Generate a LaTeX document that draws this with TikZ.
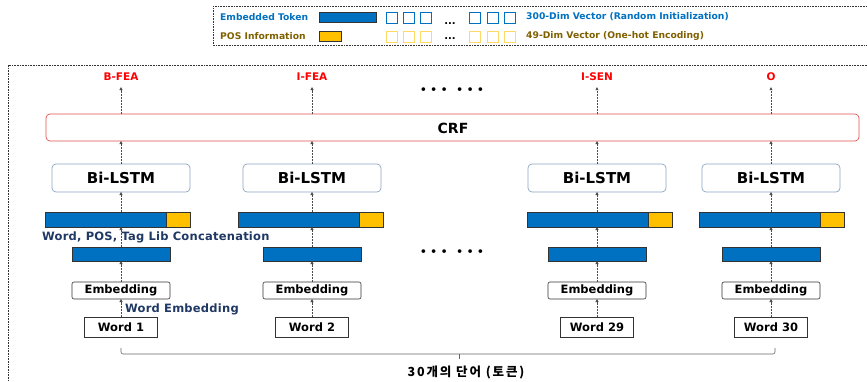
\documentclass[tikz,border=0pt]{standalone}
\usepackage{fontspec}
\setmainfont{DejaVu Sans}
\newfontfamily\kr[LetterSpace=15]{Noto Sans CJK KR}
\newfontfamily\notefont[LetterSpace=2]{DejaVu Sans}
\usetikzlibrary{arrows.meta}
\definecolor{tokblue}{RGB}{0,112,192}
\definecolor{posor}{RGB}{255,192,0}
\definecolor{posbrown}{RGB}{127,96,0}
\definecolor{navy}{RGB}{32,56,100}
\definecolor{lstmc}{RGB}{140,165,195}
\definecolor{crfred}{RGB}{225,80,80}
\definecolor{sqyel}{RGB}{255,217,102}
\tikzset{
  arr/.style={draw=black!70, line width=0.5pt, dash pattern=on 1pt off 0.5pt, -{Triangle[length=3pt,width=3pt]}},
  lstmbox/.style={draw=lstmc, line width=0.7pt, rounded corners=4pt, fill=white, minimum width=138pt, minimum height=28pt, inner sep=0pt, outer sep=0pt, font=\bfseries\fontsize{15}{17}\selectfont},
  catbar/.style={draw=black!80, line width=0.6pt, fill=tokblue, minimum width=145pt, minimum height=15pt, inner sep=0pt, outer sep=0pt},
  posbar/.style={draw=black!80, line width=0.6pt, fill=posor, minimum width=24pt, minimum height=15pt, inner sep=0pt, outer sep=0pt, anchor=east},
  embbar/.style={draw=black!80, line width=0.6pt, fill=tokblue, minimum width=98pt, minimum height=14pt, inner sep=0pt, outer sep=0pt},
  embbox/.style={draw=black!80, line width=0.6pt, rounded corners=2pt, minimum width=98pt, minimum height=17pt, inner sep=0pt, outer sep=0pt, font=\bfseries\fontsize{11.5}{13}\selectfont},
  wordbox/.style={draw=black!80, line width=0.6pt, minimum width=73pt, minimum height=20pt, inner sep=0pt, outer sep=0pt, font=\bfseries\fontsize{11.5}{13}\selectfont},
  outlab/.style={text=red, font=\bfseries\fontsize{10.5}{12}\selectfont, inner sep=0pt},
  note/.style={text=navy, font=\notefont\bfseries\fontsize{11.5}{13}\selectfont, inner sep=0pt, anchor=west},
  frame/.style={draw=black!80, line width=0.7pt, dash pattern=on 1pt off 0.6pt},
  sqb/.style={draw=tokblue, line width=0.6pt, minimum size=10.5pt, inner sep=0pt, anchor=north west},
  sqy/.style={draw=sqyel, line width=0.6pt, minimum size=10.5pt, inner sep=0pt, anchor=north west},
  legtxt/.style={font=\bfseries\fontsize{9.2}{11}\selectfont, inner sep=0pt, anchor=west},
  dots/.style={font=\bfseries\fontsize{10.5}{12}\selectfont, inner sep=0pt},
  ldots/.style={font=\bfseries\fontsize{10}{12}\selectfont, inner sep=0pt}
}
\begin{document}
\begin{tikzpicture}[x=1pt,y=-1pt]
\useasboundingbox (0,0) rectangle (867,381);
% frames
\draw[frame] (8,381) -- (8,65) -- (867,65);
\draw[frame] (867,6) -- (213,6) -- (213,45) -- (867,45);
% legend
\node[legtxt, text=tokblue] (lt1) at (220,17) {Embedded Token};
\node[legtxt, text=posbrown] (lt2) at (220,36) {POS Information};
\node[draw=black!80, line width=0.6pt, fill=tokblue, minimum width=57pt, minimum height=10pt, inner sep=0pt, anchor=north west] (lb1) at (319,12) {};
\node[draw=black!80, line width=0.6pt, fill=posor, minimum width=22pt, minimum height=10pt, inner sep=0pt, anchor=north west] (lb2) at (319,31) {};
\node[sqb] (sb1) at (386,12) {};
\node[sqb] (sb2) at (403,12) {};
\node[sqb] (sb3) at (420,12) {};
\node[sqb] (sb4) at (469,12) {};
\node[sqb] (sb5) at (487,12) {};
\node[sqb] (sb6) at (504,12) {};
\node[sqy] (sy1) at (386,31) {};
\node[sqy] (sy2) at (403,31) {};
\node[sqy] (sy3) at (420,31) {};
\node[sqy] (sy4) at (469,31) {};
\node[sqy] (sy5) at (487,31) {};
\node[sqy] (sy6) at (504,31) {};
\node[ldots, anchor=base] (ld1) at (450,24) {...};
\node[ldots, anchor=base] (ld2) at (450,39) {...};
\node[legtxt, text=tokblue] (lv1) at (526,17) {300-Dim Vector (Random Initialization)};
\node[legtxt, text=posbrown] (lv2) at (526,36) {49-Dim Vector (One-hot Encoding)};
% CRF
\node[draw=crfred, line width=0.7pt, rounded corners=4pt, minimum width=813pt, minimum height=27pt, inner sep=0pt, outer sep=0pt] (crf) at (452.5,127.5) {};
\node[font=\bfseries\fontsize{14}{16}\selectfont, inner sep=0pt] (crft) at (453,128) {CRF};
\node[dots] (od) at (452,91) {• • •\hspace{9pt}• • •};
\node[dots] (md) at (452,253) {• • •\hspace{9pt}• • •};
% columns
\foreach \i/\c/\cc/\lab/\w in {1/121/117.5/B-FEA/Word 1, 2/312/310.5/I-FEA/Word 2, 3/597/599.5/I-SEN/Word 29, 4/771/772/O/Word 30}{
  \node[outlab] (out\i) at (\c,77) {\lab};
  \node[lstmbox] (lstm\i) at (\c,178) {Bi-LSTM};
  \node[catbar] (cat\i) at (\cc,219.5) {};
  \node[posbar] (pos\i) at (cat\i.east) {};
  \node[embbar] (ebar\i) at (\c,254) {};
  \node[embbox] (ebox\i) at (\c,290.5) {Embedding};
  \node[wordbox] (word\i) at (\c,327) {\w};
  \draw[arr] (word\i.north) -- (ebox\i.south);
  \draw[arr] (ebox\i.north) -- (ebar\i.south);
  \draw[arr] (ebar\i.north) -- (ebar\i.north |- cat\i.south);
  \draw[arr] (lstm\i.south |- cat\i.north) -- (lstm\i.south);
  \draw[arr] (lstm\i.north) -- (lstm\i.north |- crf.south);
  \draw[arr, shorten >=6pt] (out\i.south |- crf.north) -- (out\i.south);
}
\node[note] (n1) at (42,237) {Word, POS, Tag Lib Concatenation};
\node[note] (n2) at (125,309) {Word Embedding};
% brace
\coordinate (bL) at (121,348);
\coordinate (bR) at (775,348);
\coordinate (bM) at (459,354);
\draw[draw=black!60, line width=0.6pt, rounded corners=2pt] (bL) |- (bR |- bM) -- (bR);
\draw[draw=black!60, line width=0.6pt] (bM) -- ++(0,5);
\node[font=\kr\bfseries\fontsize{12.5}{14}\selectfont, inner sep=0pt] (blab) at (466,372) {30개의 단어 (토큰)};
\end{tikzpicture}
\end{document}
